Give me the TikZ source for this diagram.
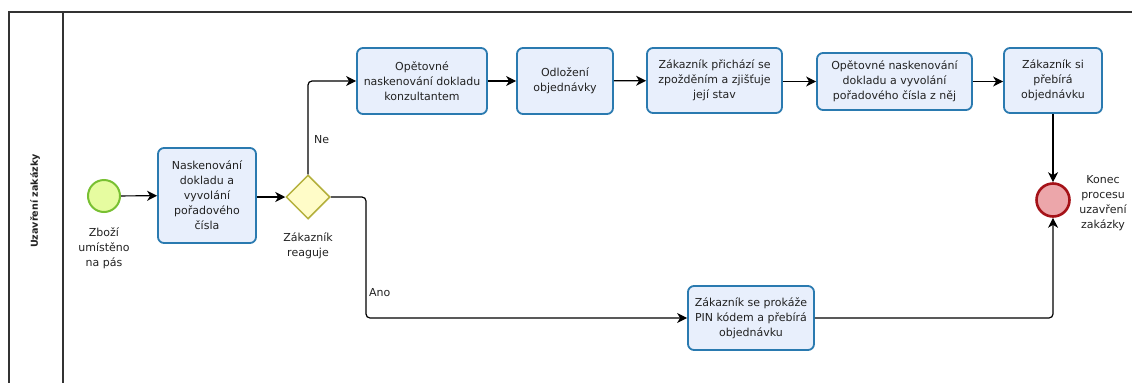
\documentclass[tikz,border=0pt]{standalone}
\usepackage{fontspec}
\setmainfont{DejaVu Sans}
\usetikzlibrary{shapes.geometric,arrows.meta}
\definecolor{taskfill}{RGB}{232,239,252}
\definecolor{taskdraw}{RGB}{42,122,176}
\definecolor{gwfill}{RGB}{255,252,200}
\definecolor{gwdraw}{RGB}{180,176,60}
\definecolor{stfill}{RGB}{230,252,160}
\definecolor{stdraw}{RGB}{120,192,50}
\definecolor{enfill}{RGB}{236,166,170}
\definecolor{endraw}{RGB}{165,18,24}
\definecolor{ink}{RGB}{34,34,34}
\tikzset{
  txt/.style={font=\fontsize{11}{15}\selectfont, text=ink, align=center, inner sep=0pt},
  task/.style={txt, draw=taskdraw, fill=taskfill, line width=1.8pt, rounded corners=6pt},
  gw/.style={diamond, draw=gwdraw, fill=gwfill, line width=1.5pt, minimum width=44pt, minimum height=44pt, inner sep=0pt},
  startev/.style={circle, draw=stdraw, fill=stfill, line width=2pt, minimum size=32pt, inner sep=0pt},
  endev/.style={circle, draw=endraw, fill=enfill, line width=2.6pt, minimum size=33pt, inner sep=0pt},
  flow/.style={draw=black, line width=1.2pt, -{Stealth[length=10pt,width=10pt,inset=3pt]}},
  bent/.style={flow, rounded corners=4pt},
  pool/.style={draw=black!80, line width=1.2pt},
}
\begin{document}
\begin{tikzpicture}[x=1pt,y=-1pt]
\useasboundingbox (0,0) rectangle (1132,383);
\fill[white] (0,0) rectangle (1132,383);
% pool
\draw[pool] (1132,12) -- (9,12) -- (9,383);
\draw[pool] (63,12) -- (63,383);
\node[rotate=90, font=\bfseries\fontsize{9.6}{11}\selectfont, text=ink] (lane) at (35,201) {Uzavření zakázky};
% events and gateway
\node[startev] (start) at (104,196) {};
\node[txt] (startlbl) at (104,248) {Zboží\\umístěno\\na pás};
\node[task, minimum width=98pt, minimum height=95pt] (t1) at (207,195.5) {Naskenování\\dokladu a\\vyvolání\\pořadového\\čísla};
\node[gw] (gw) at (308,197) {};
\node[txt] (gwlbl) at (308,245.5) {Zákazník\\reaguje};
\node[task, minimum width=130pt, minimum height=66pt] (t2) at (422,81) {Opětovné\\naskenování dokladu\\konzultantem};
\node[task, minimum width=96pt, minimum height=66pt] (t3) at (565,81) {Odložení\\objednávky};
\node[task, minimum width=135pt, minimum height=65pt] (t4) at (714.5,80.5) {Zákazník přichází se\\zpožděním a zjišťuje\\její stav};
\node[task, minimum width=155pt, minimum height=57pt] (t5) at (894.5,81.5) {Opětovné naskenování\\dokladu a vyvolání\\pořadového čísla z něj};
\node[task, minimum width=98pt, minimum height=65pt] (t6) at (1053,80.5) {Zákazník si\\přebírá\\objednávku};
\node[task, minimum width=126pt, minimum height=64pt] (t7) at (751,318) {Zákazník se prokáže\\PIN kódem a přebírá\\objednávku};
\node[endev] (end) at (1053,200) {};
\node[txt] (endlbl) at (1103,203) {Konec\\procesu\\uzavření\\zakázky};
\coordinate (ysplit) at (366,197);
% flows
\draw[flow] (start) -- (t1);
\draw[flow] (t1.east |- gw) -- (gw);
\draw[bent] (gw.north) |- (t2.west);
\draw[bent] (gw.east) -- (ysplit) |- (t7.west);
\draw[flow] (t2) -- (t3);
\draw[flow] (t3) -- (t4);
\draw[flow] (t4.east |- t5) -- (t5);
\draw[flow] (t5) -- (t6.west |- t5);
\draw[flow] (t6) -- (end);
\draw[bent] (t7.east) -| (end.south);
\node[txt, anchor=west] (ne) at (314,140) {Ne};
\node[txt, anchor=west] (ano) at (369,293) {Ano};
\end{tikzpicture}
\end{document}
